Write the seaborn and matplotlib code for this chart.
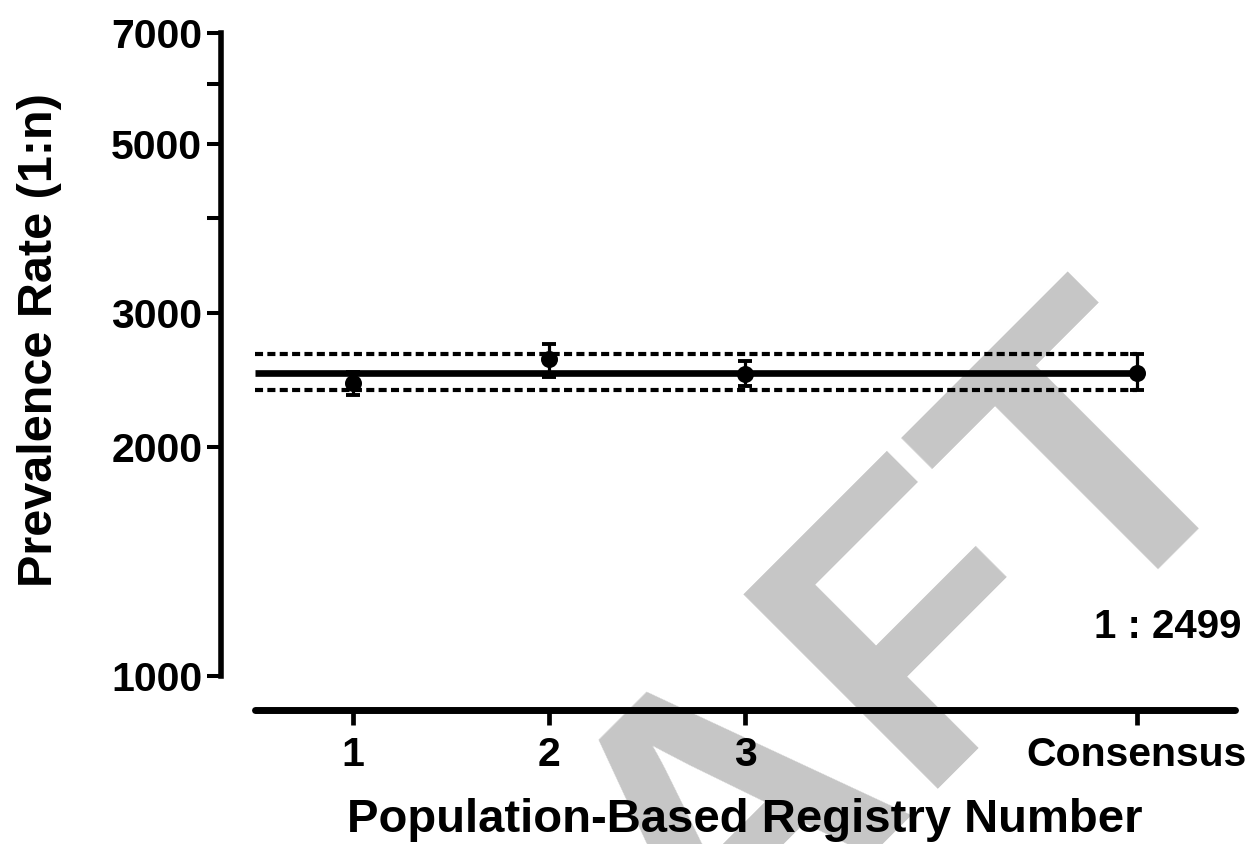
import matplotlib
matplotlib.use('Agg')
import matplotlib.pyplot as plt
import seaborn as sns
import pandas as pd
from matplotlib.ticker import FixedLocator, NullFormatter

# ---- data ----
registries = ['1', '2', '3', 'Consensus']
positions = [1, 2, 3, 5]
prevalence = [2428, 2610, 2495, 2499]
ci_low = [2342, 2472, 2406, 2377]
ci_high = [2509, 2731, 2594, 2650]
consensus_value = 2499
consensus_low = 2377
consensus_high = 2650
y_ticks = [1000, 2000, 3000, 5000, 7000]
y_minor = [4000, 6000]
annotation = '1 : 2499'
watermark = 'DRAFT'
x_title = 'Population-Based Registry Number'
y_title = 'Prevalence Rate (1:n)'

sns.set_theme(style='ticks')
plt.rcParams['font.family'] = ['Liberation Sans', 'DejaVu Sans']
plt.rcParams['font.weight'] = 'bold'
plt.rcParams['lines.scale_dashes'] = False

df = pd.DataFrame({'registry': registries, 'pos': positions,
                   'prevalence': prevalence, 'low': ci_low, 'high': ci_high})

W, H = 1253, 844
fig = plt.figure(figsize=(W / 100, H / 100), dpi=100)
fig.patch.set_facecolor('white')

# watermark behind everything
fig.text(778 / W, 1 - 922 / H, watermark, fontsize=288, fontweight='bold',
         color='#c6c6c6', rotation=45, rotation_mode='anchor',
         ha='center', va='baseline', zorder=-5)

ax_top, ax_bot = 33, 676
ax = fig.add_axes([255 / W, 1 - ax_bot / H, 980 / W, (ax_bot - ax_top) / H])
ax.set_facecolor('none')
ax.set_yscale('log')
ax.set_xlim(0.5, 5.5)
ax.set_ylim(1000, 7000)

x0 = ax.get_xlim()[0]
xend = positions[-1]
ax.plot([x0, xend], [consensus_value, consensus_value], color='black', lw=4.8,
        solid_capstyle='butt', zorder=2)
for v in (consensus_low, consensus_high):
    ax.plot([x0, xend], [v, v], color='black', lw=3.0,
            linestyle=(0, (5.8, 3.1)), zorder=2)

ax.errorbar(df['pos'], df['prevalence'],
            yerr=[df['prevalence'] - df['low'], df['high'] - df['prevalence']],
            fmt='none', ecolor='black', elinewidth=2.3, capsize=4.7,
            capthick=2.8, zorder=3)
sns.scatterplot(data=df, x='pos', y='prevalence', ax=ax, color='black',
                s=150, edgecolor='black', linewidth=0, zorder=4, legend=False)

# axes styling
ax.set_yticks(y_ticks)
ax.set_yticklabels([str(t) for t in y_ticks])
ax.yaxis.set_minor_locator(FixedLocator(y_minor))
ax.yaxis.set_minor_formatter(NullFormatter())
ax.set_xticks(positions)
ax.set_xticklabels(registries)

ax.tick_params(axis='y', which='both', length=10, width=2.9, direction='out',
               pad=3.5, labelsize=29.5, color='black', labelcolor='black')
ax.tick_params(axis='x', which='major', length=10.5, width=3.4, direction='out',
               pad=8.6, labelsize=29.5, color='black', labelcolor='black')
for lab in ax.get_xticklabels() + ax.get_yticklabels():
    lab.set_fontweight('bold')

for s in ('top', 'right'):
    ax.spines[s].set_visible(False)
ax.spines['left'].set_position(('outward', 24.5))
ax.spines['left'].set_bounds(1000, 7000)
ax.spines['left'].set_linewidth(4)
ax.spines['left'].set_color('black')
ax.spines['bottom'].set_position(('outward', 24.3))
ax.spines['bottom'].set_linewidth(5)
ax.spines['bottom'].set_color('black')
ax.spines['bottom'].set_capstyle('round')

ax.set_xlabel(x_title, fontsize=34, fontweight='bold', color='black')
ax.set_ylabel(y_title, fontsize=35, fontweight='bold', color='black')
ax.xaxis.label.set_va('baseline')
span = ax_bot - ax_top
ax.xaxis.set_label_coords(0.5, (ax_bot - 832) / span)
ax.yaxis.set_label_coords((62 - 255) / 980, (ax_bot - 340) / span)

ax.text((1242 - 255) / 980, (ax_bot - 638) / span, annotation, transform=ax.transAxes,
        ha='right', va='baseline', fontsize=29, fontweight='bold', color='black')

fig.savefig('out.png', dpi=100)
